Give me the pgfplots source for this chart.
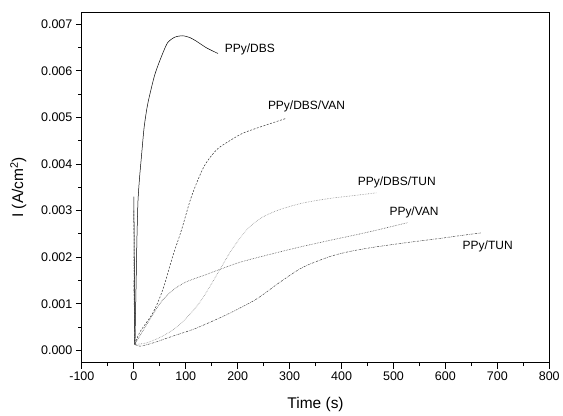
\documentclass[border=0pt]{standalone}
\usepackage{fontspec}
\setmainfont{Liberation Sans}
\usepackage{pgfplots}
\pgfplotsset{compat=1.18}
\usetikzlibrary{calc}

\begin{document}
\begin{tikzpicture}
\begin{axis}[
 scale only axis, width=468pt, height=351pt,
 xmin=-100, xmax=800, ymin=-0.00026, ymax=0.00726,
 xtick={-100,0,100,200,300,400,500,600,700,800},
 ytick={0,0.001,0.002,0.003,0.004,0.005,0.006,0.007},
 minor x tick num=1, minor y tick num=1,
 tick align=outside, xtick pos=bottom, ytick pos=left,
 major tick length=6pt, minor tick length=3.5pt,
 scaled y ticks=false,
 yticklabel style={/pgf/number format/.cd,fixed,fixed zerofill,precision=3},
 /pgf/number format/assume math mode=true,
 tick label style={font=\fontsize{12.5}{14}\selectfont},
 label style={font=\fontsize{15.5}{18}\selectfont},
 xlabel={Time (s)}, ylabel={I (A/cm\textsuperscript{2})},
 xlabel style={yshift=-10pt},
 ylabel style={yshift=8pt},
 axis line style={line width=0.9pt},
 every tick/.style={line width=0.8pt,black},
 clip=false,
]
% start-up spikes at t = 0
\addplot[black,line width=0.5pt] coordinates {(0,0.0033) (2,0.00013)};
\addplot[black!80,line width=0.5pt,dash pattern=on 2pt off 1.5pt] coordinates {(0,0.0030) (2,0.00013)};
\addplot[black!70,line width=0.6pt,densely dotted] coordinates {(0,0.0020) (2,0.00013)};
\addplot[black!75,line width=0.5pt,dash pattern=on 2pt off 1pt on 0.5pt off 1pt] coordinates {(0,0.0015) (2,0.00013)};
% PPy/DBS
\addplot[black,line width=0.5pt,smooth,tension=0.4] coordinates {
(2,0.00013) (4,0.0012) (6,0.0024) (8,0.0032) (11,0.0037) (15,0.0042)
(20,0.0048) (27,0.0053) (40,0.0059) (53,0.0063) (65,0.0066) (79,0.00672)
(94,0.00675) (108,0.00671) (121,0.00663) (140,0.00649) (162,0.00637)};
% PPy/DBS/VAN
\addplot[black!80,line width=0.5pt,dash pattern=on 2pt off 1.5pt,smooth,tension=0.5] coordinates {
(2,0.00013) (11.5,0.00039) (37,0.00081) (56,0.00131) (75,0.00202)
(92,0.00259) (108,0.00320) (122,0.00362) (138,0.00400) (161,0.00432)
(188,0.00452) (210,0.00466) (240,0.00478) (294,0.00498)};
% PPy/DBS/TUN
\addplot[black!45,line width=0.6pt,densely dotted,smooth,tension=0.5] coordinates {
(2,0.00013) (24,0.00016) (56,0.00031) (88,0.00055) (127,0.00103)
(165,0.00172) (185,0.00210) (204,0.00240) (223,0.00265) (248,0.00286)
(281,0.00302) (325,0.00316) (377,0.00326) (415,0.00331) (467,0.00338)};
% PPy/VAN
\addplot[black!70,line width=0.6pt,densely dotted,smooth,tension=0.5] coordinates {
(2,0.00013) (11.5,0.00031) (50,0.00100) (75,0.00129) (101,0.00147)
(140,0.00163) (171,0.00176) (204,0.00189) (248,0.00202) (313,0.00220)
(377,0.00236) (415,0.00245) (460,0.00256) (527,0.00274)};
% PPy/TUN
\addplot[black!75,line width=0.5pt,dash pattern=on 2pt off 1pt on 0.5pt off 1pt,smooth,tension=0.5] coordinates {
(2,0.00013) (11.5,0.00009) (37,0.00016) (76,0.00031) (114,0.00045)
(152,0.00063) (185,0.00080) (236,0.00110) (281,0.00146) (325,0.00178)
(377,0.00201) (415,0.00212) (460,0.00221) (524,0.00231) (588,0.00240)
(627,0.00246) (668,0.00252)};
\begin{scope}[every node/.style={font=\fontsize{12}{14}\selectfont,anchor=west,inner sep=0pt}]
\node at (axis cs:175,0.00645) {PPy/DBS};
\node at (axis cs:258,0.00523) {PPy/DBS/VAN};
\node at (axis cs:431,0.00360) {PPy/DBS/TUN};
\node at (axis cs:492,0.00296) {PPy/VAN};
\node at (axis cs:633,0.00224) {PPy/TUN};
\end{scope}
\end{axis}
\path ($(current axis.south west)+(-82pt,-52pt)$) rectangle ($(current axis.north east)+(13pt,12pt)$);
\end{tikzpicture}
\end{document}
